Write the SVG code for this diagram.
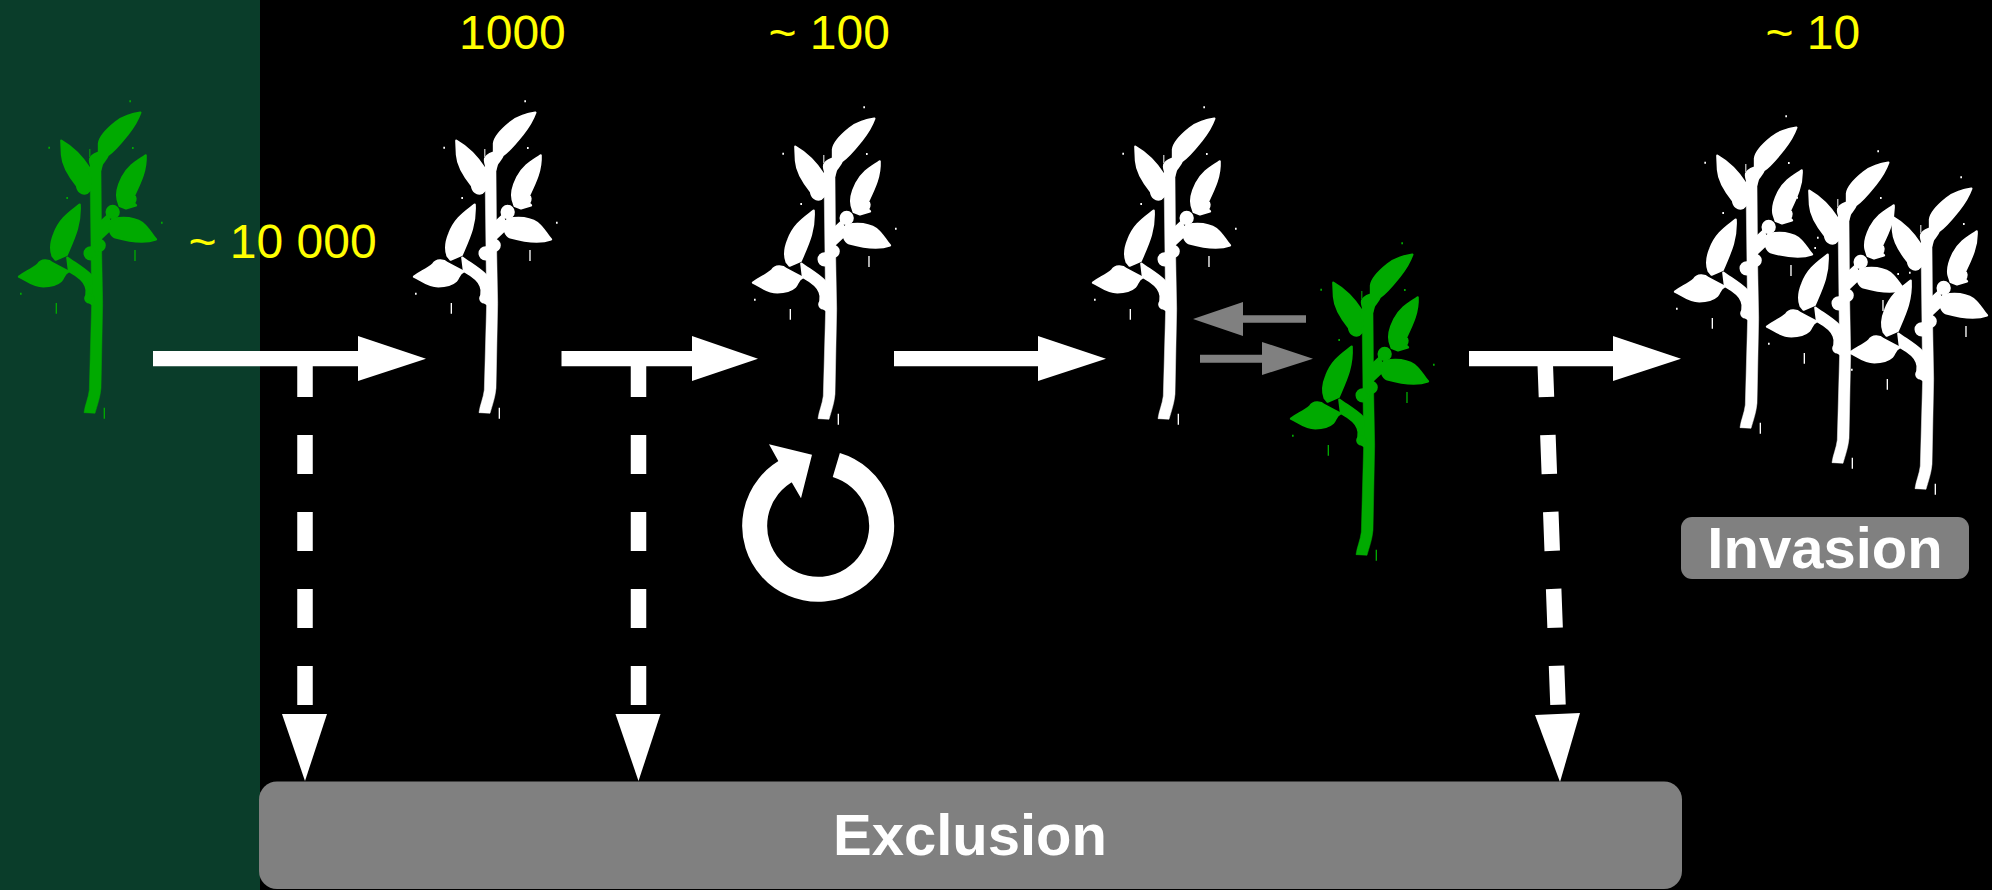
<svg xmlns="http://www.w3.org/2000/svg" width="1992" height="890" viewBox="0 0 1992 890">
<style>
.num{font-family:"Liberation Sans",Arial,sans-serif;font-size:48px;fill:#ffff00}
.lab{font-family:"Liberation Sans",Arial,sans-serif;font-size:58px;font-weight:bold;fill:#fff;text-anchor:middle}
.w{fill:#fff;stroke:#fff}.g{fill:#00aa00;stroke:#00aa00}.gr{fill:#808080}
.dash{stroke:#fff;stroke-width:15.5;stroke-dasharray:39 38;fill:none}
.arrow{fill:#fff}
</style>
<defs>
<g id="plant" stroke-width="7" stroke-linejoin="round">
<g transform="translate(0,90) scale(.3333)">
<path stroke-width="1.500" d="M252,968 L285,970 C292,945 300,925 303,895 L308,640 L305,480 L303,230 L270,230 L273,480 L275,640 L268,900 C265,925 255,945 252,968Z"/>
<path d="M421,68C395,73 370,78 347,97 C322,117 300,137 297,160 L297,187 C282,192 269,200 270,212 C271,225 277,232 274,240 L301,240 L306,222 C313,212 320,205 323,196 C343,183 363,158 383,133 C403,108 413,90 421,68Z"/>
<path d="M184,152C212,168 245,197 269,236 L272,298 L261,309 C246,315 233,304 231,287 C208,259 188,224 186,195Z"/>
<path d="M437,196C416,211 387,224 367,262 C355,286 348,310 353,329 L359,348 L378,355 L408,346 L402,340 C409,330 407,320 402,317 C422,275 439,240 437,196Z"/>
<circle cx="338" cy="366" r="18"/>
<path d="M303,395L325,375 330,420 303,445Z"/>
<path d="M328,396C342,381 395,378 428,400 C447,414 455,436 468,448 C440,458 400,457 346,442 C331,436 325,415 328,396Z"/>
<circle cx="272" cy="490" r="18"/><circle cx="298" cy="466" r="16"/>
<path d="M239,344C214,365 182,382 163,431 C151,460 151,480 158,498 L167,509 L200,495 C222,444 242,405 239,344Z"/>
<path d="M57,560C77,545 97,538 114,523 C124,508 145,508 158,520 L205,545 C192,549 192,564 183,573 C168,587 150,589 130,589 C97,589 77,568 57,560Z"/>
<path d="M202,503C225,520 255,537 273,556 L276,642 L260,630 C255,619 265,605 257,589 C252,570 225,553 207,543Z"/>
<circle cx="268" cy="625" r="12"/>
<path d="M268,177h3v24h-3zM403,480h4v33h-4zM167,639h4v32h-4zM311,953h4v33h-4zM388,31h5v6h-5zM145,170h5v6h-5zM396,171h5v6h-5zM199,321h5v6h-5zM483,395h5v6h-5zM60,608h5v6h-5z" stroke="none"/>
</g>
</g>
</defs>
<rect width="1992" height="890" fill="#000"/>
<rect id="panel" width="260" height="890" fill="#0a3d2a"/>

<g id="plant-1" class="g"><use href="#plant"/></g>
<g id="plant-2" class="w"><use href="#plant" x="395"/></g>
<g id="plant-3" class="w"><use href="#plant" x="734" y="6"/></g>
<g id="plant-4" class="w"><use href="#plant" x="1074" y="6"/></g>
<g id="plant-5" class="g"><use href="#plant" x="1272" y="142"/></g>
<g id="plants-invasion" class="w"><use href="#plant" x="1656" y="15"/><use href="#plant" x="1748" y="50"/><use href="#plant" x="1831" y="76"/></g>

<g id="connectors">
<g class="arrow">
<path d="M153,351H358V336L426,358.7 358,381V366.3H153Z"/>
<path d="M561.5,351H692V336L758,358.7 692,381V366.3H561.5Z"/>
<path d="M894,351H1038V336L1106,358.7 1038,381V366.3H894Z"/>
<path d="M1469,351H1613V336L1681,358.7 1613,381V366.3H1469Z"/>
<path d="M282,714H327L305,781Z"/>
<path d="M615.5,714H660.5L638.5,781Z"/>
<path d="M1535,715L1580,713 1560,782Z"/>
</g>
<line class="dash" x1="305" y1="358" x2="305" y2="705"/>
<line class="dash" x1="638.5" y1="358" x2="638.5" y2="705"/>
<line class="dash" x1="1545" y1="358" x2="1558" y2="705"/>
<path class="gr" d="M1193,319L1243,302V315.3H1306V322.7H1243V336Z"/>
<path class="gr" d="M1313,358.7L1262,342V354.7H1200V362.7H1262V375Z"/>
</g>

<g id="cycle">
<path d="M836.3,465A63.5,63.5 0 1 1 789.900,469" fill="none" stroke="#fff" stroke-width="25"/>
<path class="arrow" d="M769,444.3L812,454.7 801,498.3 791.7,482.3 778.3,461Z"/>
</g>

<g id="exclusion"><rect class="gr" x="259" y="781.500" width="1423" height="107.500" rx="18"/><text class="lab" x="970" y="855">Exclusion</text></g>
<g id="invasion"><rect class="gr" x="1681" y="517" width="288" height="62" rx="11"/><text class="lab" x="1825" y="568">Invasion</text></g>

<g id="labels">
<text class="num" x="188.500" y="258">~ 10 000</text>
<text class="num" x="459" y="49">1000</text>
<text class="num" x="768.500" y="49">~ 100</text>
<text class="num" x="1765.500" y="49">~ 10</text>
</g>
</svg>
